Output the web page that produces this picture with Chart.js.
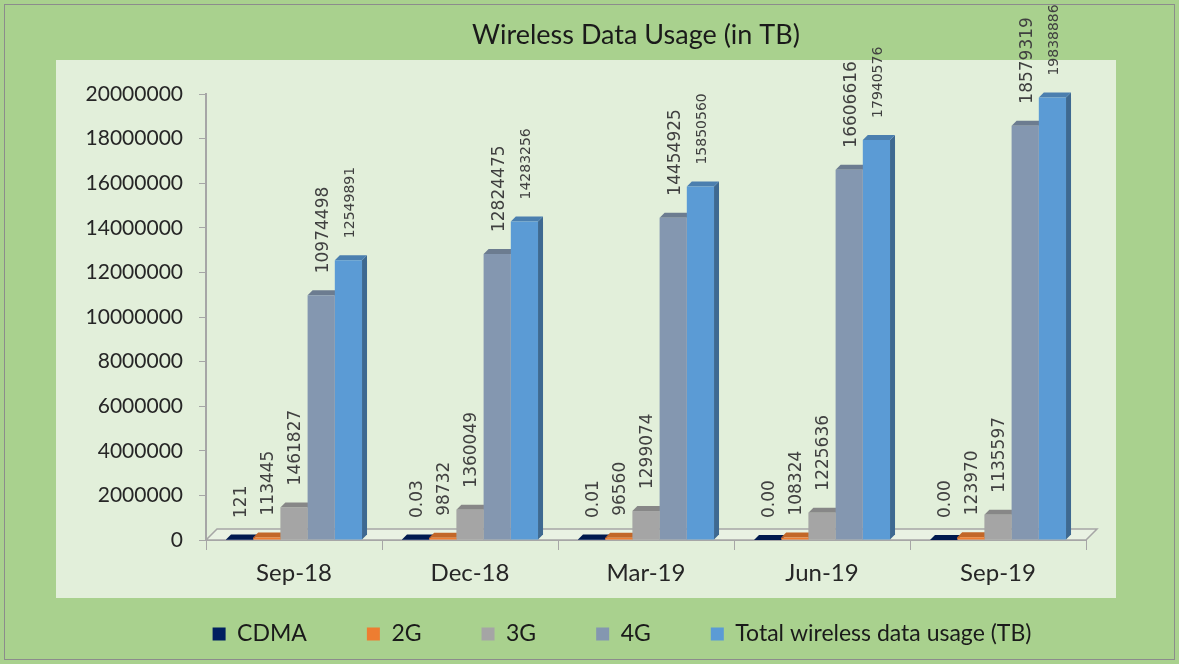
<!DOCTYPE html>
<html>
<head>
<meta charset="utf-8">
<script src="https://cdn.jsdelivr.net/npm/chart.js@4.4.0/dist/chart.umd.min.js"></script>
<style>
html, body { margin: 0; padding: 0; background: #a9d18e; }
#wrap { width: 1179px; height: 664px; }
</style>
</head>
<body>
<div id="wrap"><canvas id="chart" width="1179" height="664"></canvas></div>
<script>
const categories = ['Sep-18', 'Dec-18', 'Mar-19', 'Jun-19', 'Sep-19'];
const cdmaUsage = [121, 0.03, 0.01, 0.00, 0.00];
const usage2G = [113445, 98732, 96560, 108324, 123970];
const usage3G = [1461827, 1360049, 1299074, 1225636, 1135597];
const usage4G = [10974498, 12824475, 14454925, 16606616, 18579319];
const totalUsage = [12549891, 14283256, 15850560, 17940576, 19838886];
const seriesNames = ['CDMA', '2G', '3G', '4G', 'Total wireless data usage (TB)'];
const seriesColors = ['#002060', '#ed7d31', '#a5a5a5', '#8497b0', '#5b9bd5'];
const yMax = 20000000;
const yStep = 2000000;

const DEPTH = 5;
const LEGEND_CENTER_X = 622;
const LEGEND_ROW_Y = 634;

function shade(hex, f) {
    const n = parseInt(hex.slice(1), 16);
    const r = Math.round(((n >> 16) & 255) * f);
    const g = Math.round(((n >> 8) & 255) * f);
    const b = Math.round((n & 255) * f);
    return 'rgb(' + r + ',' + g + ',' + b + ')';
}

function fmtLabel(v) {
    return v >= 1 ? String(Math.round(v)) : v.toFixed(2);
}

// panel backgrounds + title
const backdrop = {
    id: 'backdrop',
    beforeDraw(chart) {
        const ctx = chart.ctx;
        ctx.save();
        ctx.fillStyle = '#a9d18e';
        ctx.fillRect(0, 0, chart.width, chart.height);
        ctx.strokeStyle = '#8c8c8c';
        ctx.lineWidth = 1;
        ctx.strokeRect(4.5, 4.5, chart.width - 9, chart.height - 9);
        ctx.fillStyle = '#e2efda';
        ctx.fillRect(56, 60, 1060, 538);
        ctx.fillStyle = '#1a1a1a';
        ctx.font = '27px Lato';
        ctx.textAlign = 'center';
        ctx.textBaseline = 'middle';
        ctx.fillText('Wireless Data Usage (in TB)', 636, 35);
        ctx.restore();
    },
    // the legend sits below the chart panel, not where the layout puts it
    afterLayout(chart) {
        const lg = chart.legend;
        const lab = lg.options.labels;
        const w = lg.right - lg.left;
        lg.left = LEGEND_CENTER_X - w / 2;
        lg.right = lg.left + w;
        lg.top = LEGEND_ROW_Y - lab.padding - lab.font.size / 2;
        lg.bottom = lg.top + lg.height;
    }
};

// floor and the 3D top/side faces, drawn behind the front faces
const threeD = {
    id: 'threeD',
    beforeDatasetsDraw(chart) {
        const ctx = chart.ctx;
        const a = chart.chartArea;
        ctx.save();
        ctx.beginPath();
        ctx.moveTo(a.left, a.bottom);
        ctx.lineTo(a.right, a.bottom);
        ctx.lineTo(a.right + 11, a.bottom - 11);
        ctx.lineTo(a.left + 11, a.bottom - 11);
        ctx.closePath();
        ctx.fillStyle = '#e9f2e3';
        ctx.fill();
        ctx.strokeStyle = '#a6a6a6';
        ctx.lineWidth = 1.5;
        ctx.stroke();

        chart.data.datasets.forEach((ds, i) => {
            const meta = chart.getDatasetMeta(i);
            meta.data.forEach(bar => {
                const left = bar.x - bar.width / 2;
                const right = bar.x + bar.width / 2;
                const top = Math.min(bar.y, bar.base);
                const base = bar.base;
                ctx.fillStyle = shade(ds.backgroundColor, 0.68);
                ctx.beginPath();
                ctx.moveTo(right, top);
                ctx.lineTo(right + DEPTH, top - DEPTH);
                ctx.lineTo(right + DEPTH, base - DEPTH);
                ctx.lineTo(right, base);
                ctx.closePath();
                ctx.fill();
                ctx.fillStyle = shade(ds.backgroundColor, 0.82);
                ctx.beginPath();
                ctx.moveTo(left, top);
                ctx.lineTo(left + DEPTH, top - DEPTH);
                ctx.lineTo(right + DEPTH, top - DEPTH);
                ctx.lineTo(right, top);
                ctx.closePath();
                ctx.fill();
            });
        });
        ctx.restore();
    },
    afterDatasetsDraw(chart) {
        const ctx = chart.ctx;
        ctx.save();
        ctx.fillStyle = '#404040';
        ctx.textAlign = 'left';
        ctx.textBaseline = 'middle';
        chart.data.datasets.forEach((ds, i) => {
            const meta = chart.getDatasetMeta(i);
            ctx.font = (i === 4 ? '14px' : '17px') + ' "DejaVu Sans"';
            meta.data.forEach((bar, j) => {
                ctx.save();
                ctx.translate(bar.x + 2, bar.y - 22);
                ctx.rotate(-Math.PI / 2);
                ctx.fillText(fmtLabel(ds.data[j]), 0, 0);
                ctx.restore();
            });
        });
        ctx.restore();
    }
};

const seriesData = [cdmaUsage, usage2G, usage3G, usage4G, totalUsage];

new Chart(document.getElementById('chart'), {
    type: 'bar',
    data: {
        labels: categories,
        datasets: seriesNames.map((name, i) => ({
            label: name,
            data: seriesData[i],
            backgroundColor: seriesColors[i],
            borderWidth: 0,
            barPercentage: 1,
            categoryPercentage: 0.773
        }))
    },
    options: {
        responsive: false,
        devicePixelRatio: 1,
        animation: false,
        layout: {
            padding: { left: 60, right: 93, top: 94, bottom: -33 }
        },
        plugins: {
            title: { display: false },
            tooltip: { enabled: false },
            legend: {
                position: 'bottom',
                labels: {
                    boxWidth: 13,
                    boxHeight: 13,
                    padding: 60,
                    color: '#1a1a1a',
                    font: { family: 'Lato', size: 23 }
                }
            }
        },
        scales: {
            x: {
                afterFit(scale) { scale.height = 64; },
                grid: {
                    offset: true,
                    drawOnChartArea: false,
                    drawTicks: true,
                    tickLength: 10,
                    color: '#a6a6a6'
                },
                border: { display: true, color: '#a6a6a6', width: 2 },
                ticks: {
                    color: '#262626',
                    padding: 9,
                    font: { family: 'Lato', size: 24 }
                }
            },
            y: {
                min: 0,
                max: yMax,
                afterFit(scale) { scale.width = 146; },
                grid: {
                    drawOnChartArea: false,
                    drawTicks: true,
                    tickLength: 7,
                    color: '#a6a6a6'
                },
                border: { display: true, color: '#a6a6a6', width: 2 },
                ticks: {
                    stepSize: yStep,
                    color: '#262626',
                    padding: 16,
                    font: { family: 'Lato', size: 21 },
                    callback: v => String(v)
                }
            }
        }
    },
    plugins: [backdrop, threeD]
});
</script>
</body>
</html>
